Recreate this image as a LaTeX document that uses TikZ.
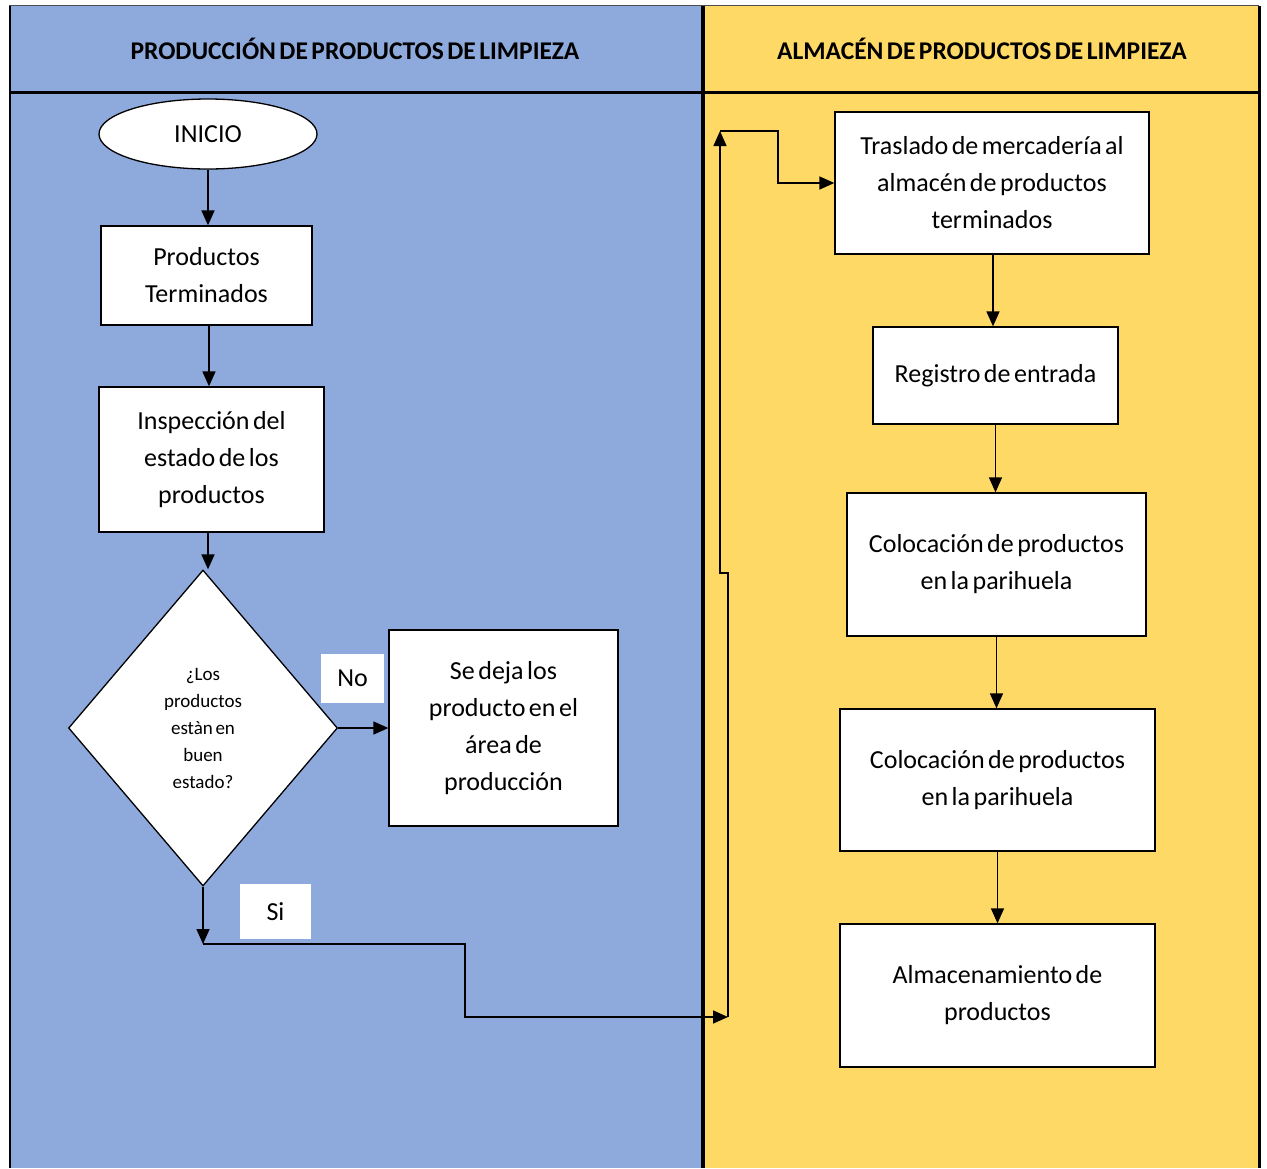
\documentclass[tikz,border=0pt]{standalone}
\usepackage{fontspec}
\setmainfont{Carlito}[WordSpace=0.6]
\usetikzlibrary{shapes.geometric,arrows.meta}
\definecolor{laneblue}{HTML}{8EA9DB}
\definecolor{laneyellow}{HTML}{FFD966}
\tikzset{
  box/.style={draw, fill=white, line width=1.3pt, align=center, inner sep=0pt,
    font=\fontsize{26}{37}\selectfont},
  arr/.style={line width=1.6pt, -{Triangle[length=15pt,width=13pt]}},
  lbl/.style={fill=white, inner sep=0pt, font=\fontsize{26}{28}\selectfont},
  hdr/.style={font=\bfseries\fontsize{25.5}{28}\selectfont}
}
\begin{document}
\begin{tikzpicture}[x=1pt,y=-1pt]
\useasboundingbox (0,0) rectangle (1267,1168);
\fill[white] (0,0) rectangle (1267,1168);
% lanes
\fill[laneblue] (9,6) rectangle (703,1168);
\fill[laneyellow] (703,6) rectangle (1259,1168);
\draw[line width=0.8pt, black!70] (9,5.5) -- (1259,5.5);
\draw[line width=3pt] (9,92) -- (1259,92);
\draw[line width=4pt] (703,6) -- (703,1168);
\draw[line width=2pt] (10,6) -- (10,1168);
\draw[line width=3pt] (1259,6) -- (1259,1168);
\node[hdr] (h1) at (355,49) {PRODUCCIÓN DE PRODUCTOS DE LIMPIEZA};
\node[hdr] (h2) at (982,49) {ALMACÉN DE PRODUCTOS DE LIMPIEZA};
% left lane
\node[box, ellipse, minimum width=218pt, minimum height=70pt] (ini) at (208,134) {INICIO};
\node[box, minimum width=211pt, minimum height=99pt] (pt) at (206.5,275.5) {Productos\\Terminados};
\node[box, minimum width=225pt, minimum height=145pt] (insp) at (211.5,459.5) {Inspección del\\estado de los\\productos};
\node[box, diamond, aspect=0.851, minimum width=269pt, minimum height=316pt,
  font=\fontsize{19}{27}\selectfont] (dia) at (203,728) {¿Los\\productos\\estàn en\\buen\\estado?};
\node[box, minimum width=229pt, minimum height=196pt] (sd) at (503.5,728) {Se deja los\\producto en el\\área de\\producción};
\node[lbl, minimum width=63pt, minimum height=49pt] (no) at (352.5,678.5) {No};
\node[lbl, minimum width=71pt, minimum height=55pt] (si) at (275.5,911.5) {Si};
% right lane
\node[box, minimum width=314pt, minimum height=142pt] (tr) at (992,183) {Traslado de mercadería al\\almacén de productos\\terminados};
\node[box, minimum width=245pt, minimum height=97pt] (reg) at (995.5,375.5) {Registro de entrada};
\node[box, minimum width=299pt, minimum height=143pt] (col1) at (996.5,564.5) {Colocación de productos\\en la parihuela};
\node[box, minimum width=315pt, minimum height=142pt] (col2) at (997.5,780) {Colocación de productos\\en la parihuela};
\node[box, minimum width=315pt, minimum height=143pt] (alm) at (997.5,995.5) {Almacenamiento de\\productos};
% connectors
\draw[arr] (ini.south) -- (ini.south |- pt.north);
\draw[arr] ([xshift=2.5pt]pt.south) -- ([xshift=2.5pt]pt.south |- insp.north);
\draw[arr] ([xshift=-3.5pt]insp.south) -- ([xshift=-3.5pt]insp.south |- dia.north);
\draw[arr] (dia.east) -- (sd.west);
\coordinate (s1) at (203,944);
\coordinate (j1) at (728,1017);
\coordinate (j2) at (720,131);
\draw[arr] (dia.south) -- (s1);
\draw[arr] (s1) -- (465,944) -- (465,1017) -- (j1);
\draw[arr] (j1) -- (728,573) -- (720,573) -- (j2);
\draw[arr] (j2) -- (778,131) |- (tr.west);
\draw[arr] ([xshift=1pt]tr.south) -- ([xshift=1pt]tr.south |- reg.north);
\draw[arr] (reg.south) -- (reg.south |- col1.north);
\draw[arr] (col1.south) -- (col1.south |- col2.north);
\draw[arr] (col2.south) -- (col2.south |- alm.north);
\end{tikzpicture}
\end{document}
